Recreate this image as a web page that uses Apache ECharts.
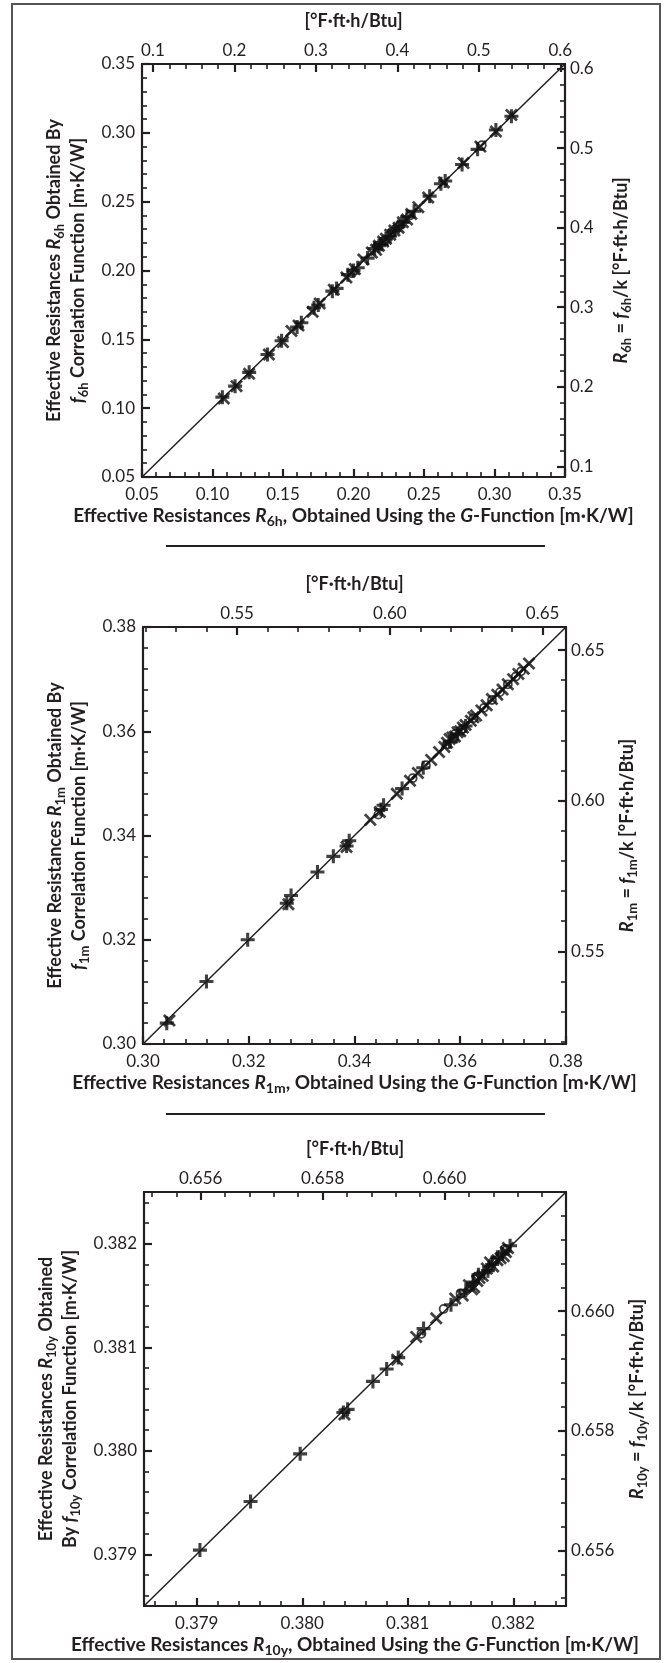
<!DOCTYPE html>
<html>
<head>
<meta charset="utf-8">
<script src="https://cdn.jsdelivr.net/npm/echarts@6/dist/echarts.min.js"></script>
<style>
html, body { margin: 0; padding: 0; background: #fff; }
#main { width: 668px; height: 1663px; }
</style>
</head>
<body>
<div id="main"></div>
<script>
// 1 m·K/W = 1.7307 °F·ft·h/Btu
const SI_TO_IP = 1.7307;

// --- panel 1 : 6 hours ---
const p1Range = [0.05, 0.35];
const p1Ticks = [0.05, 0.10, 0.15, 0.20, 0.25, 0.30, 0.35];
const p1IpTicks = [0.1, 0.2, 0.3, 0.4, 0.5, 0.6];
const p1Plus = [[0.107,0.108],[0.116,0.116],[0.126,0.126],[0.139,0.139],[0.149,0.149],[0.160,0.159],[0.163,0.162],[0.172,0.173],[0.175,0.175],[0.185,0.185],[0.188,0.187],[0.196,0.197],[0.200,0.200],[0.203,0.202],[0.210,0.209],[0.215,0.216],[0.218,0.218],[0.220,0.219],[0.223,0.223],[0.226,0.225],[0.229,0.229],[0.232,0.232],[0.235,0.235],[0.238,0.239],[0.243,0.243],[0.254,0.254],[0.262,0.263],[0.265,0.265],[0.277,0.277],[0.288,0.288],[0.301,0.302],[0.312,0.312]];
const p1Cross = [[0.108,0.107],[0.117,0.116],[0.126,0.125],[0.140,0.139],[0.150,0.148],[0.156,0.156],[0.161,0.160],[0.171,0.170],[0.176,0.176],[0.186,0.186],[0.195,0.195],[0.201,0.201],[0.207,0.208],[0.213,0.213],[0.216,0.215],[0.218,0.218],[0.221,0.221],[0.223,0.223],[0.226,0.226],[0.229,0.229],[0.232,0.231],[0.235,0.235],[0.238,0.237],[0.241,0.241],[0.246,0.246],[0.253,0.253],[0.264,0.264],[0.278,0.278],[0.290,0.290],[0.301,0.301],[0.312,0.313]];
const p1Circle = [[0.199,0.198],[0.217,0.218],[0.222,0.222],[0.227,0.228],[0.233,0.233],[0.240,0.240],[0.291,0.291]];

// --- panel 2 : 1 month ---
const p2Range = [0.30, 0.38];
const p2Ticks = [0.30, 0.32, 0.34, 0.36, 0.38];
const p2IpTicks = [0.55, 0.60, 0.65];
const p2Plus = [[0.3045,0.304],[0.312,0.312],[0.3198,0.320],[0.3272,0.327],[0.328,0.3285],[0.333,0.333],[0.336,0.336],[0.3385,0.338],[0.339,0.339],[0.345,0.345],[0.3455,0.3458],[0.349,0.349],[0.353,0.353],[0.358,0.358],[0.3595,0.3595],[0.361,0.361]];
const p2Cross = [[0.305,0.3045],[0.3275,0.3268],[0.3385,0.3378],[0.343,0.343],[0.3448,0.3445],[0.348,0.348],[0.3505,0.3505],[0.352,0.352],[0.3545,0.3545],[0.356,0.356],[0.357,0.357],[0.3575,0.3578],[0.358,0.3585],[0.3585,0.3588],[0.359,0.359],[0.3595,0.3598],[0.360,0.360],[0.3605,0.3607],[0.361,0.3612],[0.362,0.362],[0.3625,0.3627],[0.363,0.363],[0.364,0.364],[0.365,0.365],[0.366,0.3662],[0.367,0.367],[0.368,0.368],[0.369,0.369],[0.370,0.370],[0.371,0.371],[0.372,0.372],[0.373,0.373]];
const p2Circle = [[0.3445,0.344],[0.351,0.351],[0.3535,0.3535],[0.3575,0.3575],[0.359,0.3595],[0.3605,0.3605],[0.3625,0.3625],[0.3645,0.3645],[0.366,0.366],[0.3675,0.3675],[0.369,0.369],[0.3705,0.3705],[0.3715,0.3715]];

// --- panel 3 : 10 years ---
const p3Range = [0.3785, 0.3825];
const p3Ticks = [0.379, 0.380, 0.381, 0.382];
const p3IpTicks = [0.656, 0.658, 0.660];
const p3Plus = [[0.37903,0.37904],[0.37951,0.37951],[0.37998,0.37997],[0.38039,0.38037],[0.38043,0.38040],[0.38067,0.38067],[0.38080,0.38079],[0.38091,0.38090],[0.38115,0.38118],[0.38141,0.38141],[0.38155,0.38155],[0.38162,0.38163],[0.38167,0.38170],[0.38172,0.38172],[0.38176,0.38174],[0.38180,0.38180],[0.38185,0.38187],[0.38190,0.38190],[0.38197,0.38198]];
const p3Cross = [[0.38040,0.38035],[0.38090,0.38088],[0.38108,0.38110],[0.38127,0.38128],[0.38145,0.38147],[0.38152,0.38150],[0.38158,0.38160],[0.38161,0.38156],[0.38163,0.38158],[0.38166,0.38164],[0.38168,0.38167],[0.38171,0.38169],[0.38175,0.38176],[0.38178,0.38182],[0.38181,0.38178],[0.38185,0.38184],[0.38188,0.38186],[0.38191,0.38188],[0.38193,0.38192],[0.38195,0.38196]];
const p3Circle = [[0.38113,0.38113],[0.38134,0.38137],[0.38150,0.38152],[0.38165,0.38168],[0.38181,0.38183],[0.38192,0.38195]];

const INK = '#231f20';
const PLUS = 'path://M3.9,0H6.1V3.9H10V6.1H6.1V10H3.9V6.1H0V3.9H3.9Z';
const CROSS = 'path://M0,1.5L1.5,0L5,3.5L8.5,0L10,1.5L6.5,5L10,8.5L8.5,10L5,6.5L1.5,10L0,8.5L3.5,5Z';

function nameStyle(size) {
  return {
    color: INK, fontFamily: 'Lato', fontSize: size, fontWeight: 'bold', lineHeight: 24,
    rich: {
      b: { color: INK, fontFamily: 'Lato', fontSize: size, fontWeight: 'bold', lineHeight: 24 },
      i: { color: INK, fontFamily: 'Lato', fontSize: size, fontWeight: 'bold', fontStyle: 'italic', lineHeight: 24 },
      s: { color: INK, fontFamily: 'Lato', fontSize: size - 5, fontWeight: 'bold', lineHeight: 13, verticalAlign: 'bottom' }
    }
  };
}

// minor tick positions between the labelled ones
function minorTicks(range, step, majors) {
  const out = [];
  const k0 = Math.ceil(range[0] / step - 1e-6), k1 = Math.floor(range[1] / step + 1e-6);
  for (let k = k0; k <= k1; k++) {
    const v = +(k * step).toFixed(8);
    if (!majors.some(m => Math.abs(m - v) < step / 10)) out.push(v);
  }
  return out;
}

// labelled axis with long ticks + an overlaid axis that only carries the short ticks
function axisPair(gridIndex, position, range, majors, minorStep, digits, name, nameSize, nameGap, margin) {
  const base = { type: 'value', gridIndex: gridIndex, position: position, min: range[0], max: range[1], splitLine: { show: false } };
  const major = Object.assign({}, base, {
    axisLine: { show: true, onZero: false, lineStyle: { color: INK, width: 2.2 } },
    axisTick: { show: true, inside: true, length: 8, customValues: majors, lineStyle: { color: INK, width: 2.2 } },
    axisLabel: { show: true, customValues: majors, margin: margin, color: INK, fontFamily: 'Lato', fontSize: 17,
      formatter: v => (+v).toFixed(digits) },
    name: name, nameLocation: 'middle', nameGap: nameGap, nameTextStyle: nameStyle(nameSize)
  });
  const minor = Object.assign({}, base, {
    axisLine: { show: false, onZero: false },
    axisTick: { show: true, inside: true, length: 5, customValues: minorTicks(range, minorStep, majors), lineStyle: { color: INK, width: 1.6 } },
    axisLabel: { show: false }
  });
  return [major, minor];
}

const panels = [
  { range: p1Range, ticks: p1Ticks, ipTicks: p1IpTicks, step: 0.01, ipStep: 0.02, digits: 2, ipDigits: 1, sub: '6h',
    plus: p1Plus, cross: p1Cross, circle: p1Circle,
    left: '{b|Effective Resistances }{i|R}{s|6h}{b| Obtained By}\n{i|f}{s|6h}{b| Correlation Function [m·K/W]}' },
  { range: p2Range, ticks: p2Ticks, ipTicks: p2IpTicks, step: 0.004, ipStep: 0.01, digits: 2, ipDigits: 2, sub: '1m',
    plus: p2Plus, cross: p2Cross, circle: p2Circle,
    left: '{b|Effective Resistances }{i|R}{s|1m}{b| Obtained By}\n{i|f}{s|1m}{b| Correlation Function [m·K/W]}' },
  { range: p3Range, ticks: p3Ticks, ipTicks: p3IpTicks, step: 0.0002, ipStep: 0.0004, digits: 3, ipDigits: 3, sub: '10y',
    plus: p3Plus, cross: p3Cross, circle: p3Circle,
    left: '{b|Effective Resistances }{i|R}{s|10y}{b| Obtained}\n{b|By }{i|f}{s|10y}{b| Correlation Function [m·K/W]}' }
];

const grids = [
  { left: 142, top: 64, width: 423, height: 413 },
  { left: 143, top: 627, width: 423, height: 417 },
  { left: 144, top: 1192, width: 422, height: 414 }
];

const xAxes = [], yAxes = [], series = [];
panels.forEach((p, i) => {
  const ipRange = [p.range[0] * SI_TO_IP, p.range[1] * SI_TO_IP];
  const bottomName = '{b|Effective Resistances }{i|R}{s|' + p.sub + '}{b|, Obtained Using the }{i|G}{b|-Function [m·K/W]}';
  const rightName = '{i|R}{s|' + p.sub + '}{b| = }{i|f}{s|' + p.sub + '}{b|/k [°F·ft·h/Btu]}';
  xAxes.push(...axisPair(i, 'bottom', p.range, p.ticks, p.step, p.digits, bottomName, 19, 27, 9));
  xAxes.push(...axisPair(i, 'top', ipRange, p.ipTicks, p.ipStep, p.ipDigits, '{b|[°F·ft·h/Btu]}', 18, 31, 5));
  yAxes.push(...axisPair(i, 'left', p.range, p.ticks, p.step, p.digits, p.left, 18, 50, 7));
  yAxes.push(...axisPair(i, 'right', ipRange, p.ipTicks, p.ipStep, p.ipDigits, rightName, 18, 44, 5));

  const ax = { xAxisIndex: i * 4, yAxisIndex: i * 4 };
  series.push(Object.assign({ type: 'line', data: [[p.range[0], p.range[0]], [p.range[1], p.range[1]]],
    showSymbol: false, silent: true, lineStyle: { color: INK, width: 1.5 }, z: 2 }, ax));
  series.push(Object.assign({ type: 'scatter', data: p.plus, symbol: PLUS, symbolSize: 14,
    itemStyle: { color: '#111' }, z: 3 }, ax));
  series.push(Object.assign({ type: 'scatter', data: p.cross, symbol: CROSS, symbolSize: 13,
    itemStyle: { color: '#111' }, z: 3 }, ax));
  series.push(Object.assign({ type: 'scatter', data: p.circle, symbol: 'circle', symbolSize: 8,
    itemStyle: { color: 'rgba(0,0,0,0)', borderColor: '#111', borderWidth: 1.8 }, z: 3 }, ax));
});

const chart = echarts.init(document.getElementById('main'), null, { renderer: 'canvas' });
chart.setOption({
  animation: false,
  backgroundColor: '#fff',
  grid: grids,
  xAxis: xAxes,
  yAxis: yAxes,
  series: series,
  graphic: [
    { type: 'rect', shape: { x: 12, y: 4, width: 648, height: 1655 }, style: { fill: 'none', stroke: '#555', lineWidth: 2 } },
    { type: 'line', shape: { x1: 166, y1: 546, x2: 545, y2: 546 }, style: { stroke: INK, lineWidth: 2 } },
    { type: 'line', shape: { x1: 166, y1: 1114, x2: 545, y2: 1114 }, style: { stroke: INK, lineWidth: 2 } }
  ]
});
</script>
</body>
</html>
